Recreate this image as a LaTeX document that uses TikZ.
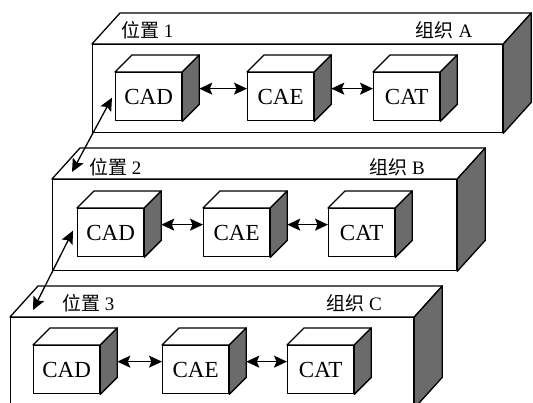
\documentclass[tikz,border=0pt]{standalone}
\usepackage{fontspec}
\setmainfont{Liberation Serif}
\newfontfamily\cjk{Noto Sans CJK SC}
\usetikzlibrary{arrows.meta}
\definecolor{darkface}{gray}{0.42}
\tikzset{
  edge/.style={line width=1.3pt, line join=round},
  cubefront/.style={edge, draw, fill=white, minimum width=66pt, minimum height=48pt,
    inner sep=0pt, font=\fontsize{23}{23}\selectfont, anchor=north west},
  slabfront/.style={edge, draw, fill=white, inner sep=0pt, anchor=north west},
  toplabel/.style={font=\fontsize{19}{19}\selectfont, inner sep=0pt},
  tip/.tip={Stealth[length=13pt,width=12pt,inset=2.5pt]},
  link/.style={line width=1.3pt, tip-tip},
}
\newcommand\myslab[5]{% name, x, y, w, h
  \node[slabfront, minimum width=#4pt, minimum height=#5pt] (#1) at (#2,#3) {};
  \draw[edge, fill=white] (#1.north west) -- ++(28pt,31pt) -- ([shift={(28pt,31pt)}]#1.north east) -- (#1.north east) -- cycle;
  \draw[edge, fill=darkface] (#1.north east) -- ++(28pt,31pt) -- ([shift={(28pt,31pt)}]#1.south east) -- (#1.south east) -- cycle;
}
\newcommand\mycube[4]{% name, x, y, text
  \node[cubefront] (#1) at (#2,#3) {#4};
  \draw[edge, fill=white] (#1.north west) -- ++(17pt,17pt) -- ([shift={(17pt,17pt)}]#1.north east) -- (#1.north east) -- cycle;
  \draw[edge, fill=darkface] (#1.north east) -- ++(17pt,17pt) -- ([shift={(17pt,17pt)}]#1.south east) -- (#1.south east) -- cycle;
}
\begin{document}
\begin{tikzpicture}[x=1pt, y=-1pt]
\useasboundingbox (0,0) rectangle (533,403);
% slab A
\myslab{slabA}{92}{44}{410}{88}
\node[toplabel, anchor=west] (posA) at (121,30) {{\cjk 位置} 1};
\node[toplabel] (orgA) at (444,30) {{\cjk 组织} A};
\mycube{cadA}{115}{72}{CAD}
\mycube{caeA}{247}{72}{CAE}
\mycube{catA}{373}{72}{CAT}
\draw[link] ([xshift=17pt,yshift=8pt]cadA.east) -- ([yshift=8pt]caeA.west);
\draw[link] ([xshift=17pt,yshift=8pt]caeA.east) -- ([yshift=8pt]catA.west);
% slab B
\myslab{slabB}{52}{179}{404}{91}
\node[toplabel, anchor=west] (posB) at (89,167) {{\cjk 位置} 2};
\node[toplabel] (orgB) at (397,167) {{\cjk 组织} B};
\mycube{cadB}{77}{208}{CAD}
\mycube{caeB}{203}{208}{CAE}
\mycube{catB}{328}{208}{CAT}
\draw[link] ([xshift=17pt,yshift=8pt]cadB.east) -- ([yshift=8pt]caeB.west);
\draw[link] ([xshift=17pt,yshift=8pt]caeB.east) -- ([yshift=8pt]catB.west);
% slab C
\myslab{slabC}{10}{317}{403}{90}
\node[toplabel, anchor=west] (posC) at (62,303) {{\cjk 位置} 3};
\node[toplabel] (orgC) at (354,303) {{\cjk 组织} C};
\mycube{cadC}{33}{345}{CAD}
\mycube{caeC}{162}{345}{CAE}
\mycube{catC}{287}{345}{CAT}
\draw[link] ([xshift=17pt,yshift=8pt]cadC.east) -- ([yshift=8pt]caeC.west);
\draw[link] ([xshift=17pt,yshift=8pt]caeC.east) -- ([yshift=8pt]catC.west);
% cross links
\draw[link] ([xshift=20pt,yshift=7pt]slabB.north west) -- ([xshift=-3pt,yshift=-1pt]cadA.west);
\draw[link] ([xshift=23pt,yshift=7pt]slabC.north west) -- ([xshift=-4pt,yshift=2pt]cadB.west);
\end{tikzpicture}
\end{document}
